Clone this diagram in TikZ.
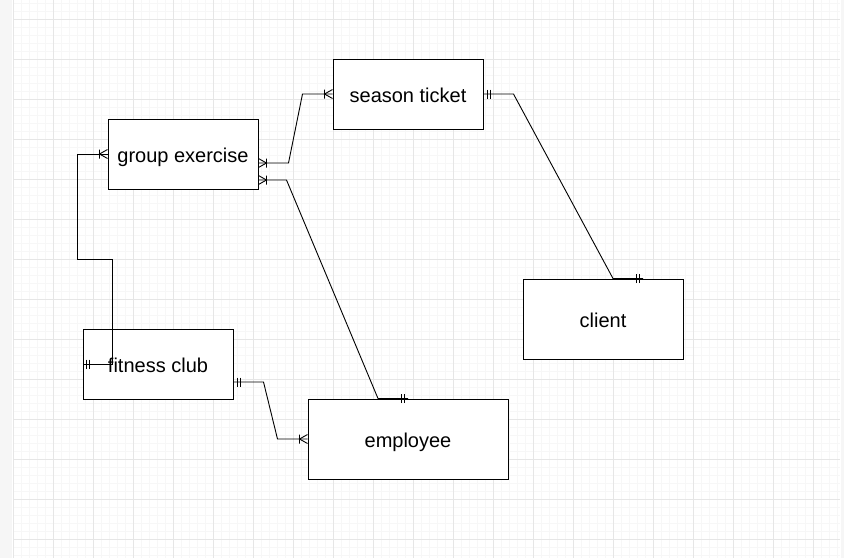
\documentclass[tikz,border=0pt]{standalone}
\usepackage{fontspec}
\setmainfont{Liberation Sans}
\usetikzlibrary{arrows.meta,positioning}

\definecolor{gridminor}{HTML}{F7F7F7}
\definecolor{gridmajor}{HTML}{E6E6E6}
\definecolor{sidestrip}{HTML}{F6F6F6}

% mandatory one: two bars
\pgfdeclarearrow{
  name = ERone,
  setup code = {
    \pgfarrowssettipend{0pt}
    \pgfarrowssetlineend{0pt}
    \pgfarrowssetbackend{-8pt}
    \pgfarrowsupperhullpoint{0pt}{4.5pt}
    \pgfarrowsupperhullpoint{-8pt}{4.5pt}
  },
  drawing code = {
    \pgfsetdash{}{0pt}
    \pgfpathmoveto{\pgfqpoint{-4pt}{-4.5pt}}
    \pgfpathlineto{\pgfqpoint{-4pt}{4.5pt}}
    \pgfpathmoveto{\pgfqpoint{-7pt}{-4.5pt}}
    \pgfpathlineto{\pgfqpoint{-7pt}{4.5pt}}
    \pgfusepathqstroke
  },
}

% one or many: crow's foot with a bar
\pgfdeclarearrow{
  name = ERmany,
  setup code = {
    \pgfarrowssettipend{0pt}
    \pgfarrowssetlineend{0pt}
    \pgfarrowssetbackend{-9pt}
    \pgfarrowsupperhullpoint{0pt}{4.5pt}
    \pgfarrowsupperhullpoint{-9pt}{4.5pt}
  },
  drawing code = {
    \pgfsetdash{}{0pt}
    \pgfpathmoveto{\pgfqpoint{0pt}{4.5pt}}
    \pgfpathlineto{\pgfqpoint{-8pt}{0pt}}
    \pgfpathlineto{\pgfqpoint{0pt}{-4.5pt}}
    \pgfpathmoveto{\pgfqpoint{-8pt}{-4.5pt}}
    \pgfpathlineto{\pgfqpoint{-8pt}{4.5pt}}
    \pgfusepathqstroke
  },
}

\begin{document}
\begin{tikzpicture}[
            x=1pt, y=-1pt,
            entity/.style={rectangle, draw, fill=white, line width=1pt, inner sep=0pt,
                minimum width=150pt, minimum height=70pt,
                font=\fontsize{20pt}{24pt}\selectfont, text height=18pt, text depth=1pt},
            relation/.style={line width=0.9pt, line join=miter},
            many to many/.style={relation, ERmany-ERmany},
            many to one/.style={relation, ERmany-ERone},
            one to one/.style={relation, ERone-ERone},
            one to many/.style={relation, ERone-ERmany},
            minor line/.style={gridminor, line width=0.8pt},
            major line/.style={gridmajor, line width=0.8pt}
        ]

        \useasboundingbox (0,0) rectangle (844,558);

        % Background grid
        \fill[white] (0,0) rectangle (844,558);
        \foreach \gx in {13,21,...,840}
            \draw[minor line] (\gx,0) -- (\gx,558);
        \foreach \gy in {3,11,...,558}
            \draw[minor line] (13,\gy) -- (840,\gy);
        \foreach \gx in {13,53,...,840}
            \draw[major line] (\gx,0) -- (\gx,558);
        \foreach \gy in {19,59,...,558}
            \draw[major line] (13,\gy) -- (840,\gy);
        \fill[sidestrip] (0,0) rectangle (12,558);
        \fill[sidestrip] (841,0) rectangle (844,558);

        % Entities
        \node[entity] (season) at (408,94) {season ticket};
        \node[entity] (group) at (183,154) {group exercise};
        \node[entity, minimum width=160pt, minimum height=80pt] (client) at (603,319) {client};
        \node[entity] (fitness) at (158,364) {fitness club};
        \node[entity, minimum width=200pt, minimum height=80pt] (employee) at (408,439) {employee};

        % Relationships
        \draw[many to many] ([yshift=-9pt]group.east) -- ++(30,0)
            -- ([xshift=-30pt]season.west) -- (season.west);
        \draw[many to one] ([yshift=-26pt]group.east) -- ++(28,0)
            -- ([xshift=-30pt]employee.north) -- (employee.north);
        \draw[one to one] (season.east) -- ++(30,0)
            -- ([xshift=10pt]client.north) -- ([xshift=40pt]client.north);
        \draw[many to one] (group.west) -- ++(-30,0) -- ++(0,105)
            -- ++(35,0) |- (fitness.west);
        \draw[one to many] ([yshift=-18pt]fitness.east) -- ++(30,0)
            -- ([xshift=-30pt]employee.west) -- (employee.west);

        \end{tikzpicture}
\end{document}
